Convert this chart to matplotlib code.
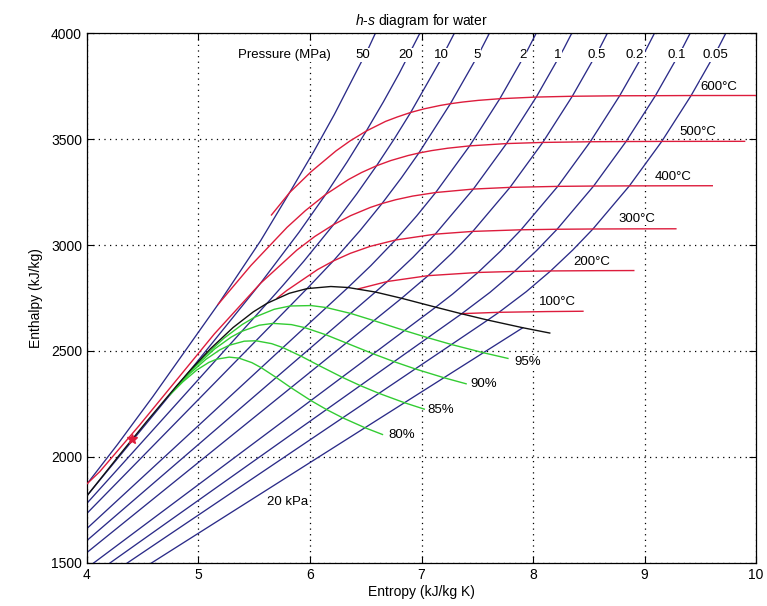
import matplotlib
matplotlib.use('Agg')
import matplotlib.pyplot as plt

plt.rcParams['font.family'] = ['Liberation Sans', 'DejaVu Sans']
plt.rcParams['mathtext.fontset'] = 'custom'
plt.rcParams['mathtext.it'] = 'Liberation Sans:italic'
plt.rcParams['mathtext.rm'] = 'Liberation Sans'

# ---------------- data: isobars (entropy s, enthalpy h) ----------------
p50_s = [3.7642, 4.0029, 4.2746, 4.5896, 5.1762, 5.5563, 5.8175, 6.0342, 6.2189, 6.5290, 6.79]
p50_h = [1716.6, 1874.6, 2059.7, 2284.0, 2720.1, 3019.5, 3247.6, 3441.4, 3616.4, 3933.6, 4231]
p20_s = [3.7288, 4.0139, 4.9269, 5.5540, 5.9017, 6.1401, 6.3348, 6.5048, 6.6582, 6.7993, 7.0544]
p20_h = [1645.9, 1826.3, 2409.7, 2818.1, 3060.1, 3238.2, 3393.5, 3537.6, 3675.3, 3809.0, 4069.8]
p10_s = [3.3596, 5.6141, 5.7568, 5.9443, 6.2120, 6.4190, 6.5966, 6.7561, 6.9029, 7.1687, 7.4077]
p10_h = [1407.6, 2724.7, 2809.1, 2923.4, 3096.5, 3240.9, 3373.7, 3500.9, 3625.3, 3870.5, 4114.9]
p5_s = [2.9202, 5.9734, 6.2084, 6.4493, 6.6459, 6.8186, 6.9759, 7.2589, 7.5122, 7.7440]
p5_h = [1154.2, 2794.3, 2924.5, 3068.4, 3195.7, 3316.2, 3433.8, 3666.5, 3900.1, 4137.1]
p2_s = [2.4474, 6.3409, 6.5453, 6.7664, 6.9563, 7.1271, 7.4317, 7.7024, 7.9487, 8.1765]
p2_h = [908.8, 2799.5, 2902.5, 3023.5, 3137.0, 3247.6, 3467.6, 3690.1, 3917.4, 4150.3]
p1_s = [2.1387, 6.5865, 6.6940, 6.9247, 7.1229, 7.4651, 7.7622, 8.0290, 8.2731, 8.4996]
p1_h = [762.8, 2778.1, 2827.9, 2942.6, 3051.2, 3263.9, 3478.5, 3697.9, 3923.1, 4154.8]
p05_s = [1.8607, 6.8213, 7.0592, 7.2709, 7.4599, 7.7938, 8.0873, 8.3522, 8.5952, 8.8211]
p05_h = [640.2, 2748.7, 2855.4, 2960.7, 3064.2, 3271.9, 3483.9, 3701.7, 3925.9, 4156.9]
p02_s = [1.5301, 7.1272, 7.2795, 7.5066, 7.7086, 7.8926, 8.2218, 8.5133, 8.7770, 9.0194, 9.2449]
p02_h = [504.7, 2706.7, 2768.8, 2870.5, 2971.0, 3071.8, 3276.6, 3487.1, 3704.0, 3927.6, 4158.2]
p01_s = [1.3026, 7.3594, 7.6134, 7.8343, 8.0333, 8.2158, 8.5435, 8.8342, 9.0976, 9.3398, 9.5652]
p01_h = [417.5, 2675.5, 2776.4, 2875.3, 2974.3, 3074.3, 3278.2, 3488.1, 3704.4, 3928.2, 4158.6]
p005_s = [1.0910, 7.5939, 7.6947, 7.9401, 8.1580, 8.3556, 8.5373, 8.8642, 9.1546, 9.4178, 9.6599, 9.8852]
p005_h = [340.5, 2645.9, 2682.5, 2780.1, 2877.7, 2976.0, 3075.5, 3278.9, 3488.7, 3705.1, 3928.5, 4158.9]
p002_s = [0.8320, 7.9085]
p002_h = [251.4, 2609.7]

# ---------------- data: isotherms ----------------
t100_s = [7.3549, 7.3614, 7.6947, 8.1262, 8.4479]
t100_h = [2676.1, 2676.2, 2682.5, 2686.0, 2687.5]
t200_s = [6.4323, 6.6940, 7.0592, 7.5066, 7.8343, 8.1580, 8.5842, 8.9038]
t200_h = [2792.8, 2827.9, 2855.4, 2870.5, 2875.3, 2877.7, 2879.0, 2879.5]
t300_s = [5.7045, 5.7906, 6.0682, 6.2084, 6.3615, 6.5390, 6.7664, 7.1229, 7.4599, 7.8926,
          8.2158, 8.5373, 8.9612, 9.2813]
t300_h = [2749.0, 2785.0, 2884.2, 2924.5, 2960.7, 2993.5, 3023.5, 3051.2, 3064.2, 3071.8,
          3074.3, 3075.5, 3076.2, 3076.5]
t400_s = [4.0029, 4.1145, 4.4728, 5.1418, 5.5540, 5.8811, 6.0433, 6.2120, 6.3634, 6.5408,
          6.6459, 6.7690, 6.9212, 7.1271, 7.4651, 7.7938, 8.2218, 8.5435, 8.8642, 9.2876, 9.6077]
t400_h = [1874.6, 1930.8, 2151.1, 2580.2, 2818.1, 2975.5, 3040.4, 3096.5, 3138.3, 3177.2,
          3195.7, 3213.6, 3230.9, 3247.6, 3263.9, 3271.9, 3276.6, 3278.2, 3278.9, 3279.4, 3279.6]
t500_s = [5.1762, 5.4700, 5.7941, 5.9592, 6.1401, 6.3443, 6.4618, 6.5966, 6.7240, 6.8803,
          6.9759, 7.0901, 7.2338, 7.4317, 7.7622, 8.0873, 8.5133, 8.8342, 9.1546, 9.5779, 9.8978]
t500_h = [2720.1, 2903.3, 3083.3, 3162.4, 3238.2, 3308.6, 3341.8, 3373.7, 3398.3, 3422.2,
          3433.8, 3445.3, 3456.5, 3467.6, 3478.5, 3483.9, 3487.1, 3488.1, 3488.7, 3489.0, 3489.1]
t600_s = [5.6545, 5.8175, 6.0114, 6.2331, 6.3602, 6.5048, 6.6776, 6.7828, 6.9029, 7.0206,
          7.1677, 7.2589, 7.3688, 7.5085, 7.7024, 8.0290, 8.3522, 8.7770, 9.0976, 9.4178,
          9.8410, 10.1608]
t600_h = [3141.7, 3247.6, 3346.4, 3443.9, 3491.4, 3537.6, 3583.1, 3604.0, 3625.3, 3642.0,
          3658.4, 3666.5, 3674.4, 3682.3, 3690.1, 3697.9, 3701.7, 3704.0, 3704.4, 3705.1,
          3705.3, 3705.4]

# ---------------- data: saturation line ----------------
sat_s = [3.6848, 3.8715, 4.0139, 4.1075, 4.2950, 4.4070, 4.5330, 4.8013, 4.9269, 5.1044,
         5.3098, 5.4924, 5.6141, 5.8133, 5.9734, 6.1869, 6.3409, 6.5865, 6.8213, 7.1272,
         7.3594, 7.5939, 7.9085, 8.1502]
sat_h = [1610.5, 1732.0, 1826.3, 1888.0, 2012.0, 2084.3, 2166.0, 2334.0, 2409.7, 2509.1,
         2610.5, 2684.9, 2724.7, 2772.1, 2794.3, 2804.2, 2799.5, 2778.1, 2748.7, 2706.7,
         2675.5, 2645.9, 2609.7, 2584.7]
crit_s = [4.4070]
crit_h = [2084.3]

# ---------------- data: constant-quality lines (20 MPa ... 10 kPa) ----------------
x80_s = [4.744, 4.858, 4.985, 5.093, 5.163, 5.275, 5.363, 5.479, 5.562, 5.697, 5.829, 6.008, 6.148, 6.293, 6.493, 6.650]
x80_h = [2293.0, 2353.7, 2410.5, 2446.2, 2461.3, 2471.1, 2466.3, 2445.0, 2421.4, 2375.0, 2327.0, 2266.2, 2223.9, 2184.8, 2138.0, 2106.1]
x85_s = [4.790, 4.920, 5.066, 5.193, 5.276, 5.410, 5.515, 5.656, 5.757, 5.919, 6.077, 6.288, 6.451, 6.619, 6.847, 7.025]
x85_h = [2322.2, 2392.5, 2460.5, 2505.9, 2527.1, 2546.3, 2548.3, 2534.7, 2515.9, 2475.8, 2432.4, 2376.3, 2336.8, 2300.1, 2256.0, 2225.7]
x90_s = [4.836, 4.981, 5.147, 5.293, 5.389, 5.544, 5.668, 5.833, 5.952, 6.142, 6.325, 6.568, 6.754, 6.944, 7.201, 7.400]
x90_h = [2351.4, 2431.4, 2510.5, 2565.5, 2593.0, 2621.6, 2630.3, 2624.5, 2610.4, 2576.6, 2537.9, 2486.4, 2449.7, 2415.4, 2373.9, 2345.3]
x95_s = [4.881, 5.043, 5.229, 5.393, 5.501, 5.679, 5.821, 6.010, 6.146, 6.364, 6.573, 6.847, 7.057, 7.269, 7.555, 7.775]
x95_h = [2380.5, 2470.2, 2560.5, 2625.2, 2658.8, 2696.8, 2712.3, 2714.3, 2705.0, 2677.3, 2643.3, 2596.5, 2562.6, 2530.6, 2491.8, 2465.0]

# ---------------- labels ----------------
pressure_labels = ['50', '20', '10', '5', '2', '1', '0.5', '0.2', '0.1', '0.05']
temperature_labels = ['600°C', '500°C', '400°C', '300°C', '200°C', '100°C']
quality_labels = ['95%', '90%', '85%', '80%']

# label placement (layout)
pressure_label_x = [6.471, 6.857, 7.181, 7.495, 7.908, 8.223, 8.573, 8.915, 9.292, 9.633]
pressure_label_y = 3896
temperature_label_xy = [(9.50, 3745), (9.31, 3535), (9.09, 3322), (8.77, 3125), (8.36, 2920), (8.05, 2731)]
quality_label_xy = [(7.83, 2450), (7.44, 2345), (7.05, 2222), (6.70, 2104)]

BLUE = '#2b2b88'
RED = '#dd1c3c'
GREEN = '#33cc33'
BLACK = '#111111'

fig = plt.figure(figsize=(7.67, 6.06), dpi=100)
ax = fig.add_axes([0.1134, 0.0710, 0.8723, 0.8745])

isobars = [(p50_s, p50_h), (p20_s, p20_h), (p10_s, p10_h), (p5_s, p5_h), (p2_s, p2_h),
           (p1_s, p1_h), (p05_s, p05_h), (p02_s, p02_h), (p01_s, p01_h), (p005_s, p005_h),
           (p002_s, p002_h)]
for s, h in isobars:
    ax.plot(s, h, color=BLUE, lw=0.95, zorder=2)

isotherms = [(t100_s, t100_h), (t200_s, t200_h), (t300_s, t300_h),
             (t400_s, t400_h), (t500_s, t500_h), (t600_s, t600_h)]
for s, h in isotherms:
    ax.plot(s, h, color=RED, lw=1.0, zorder=3)

for s, h in [(x80_s, x80_h), (x85_s, x85_h), (x90_s, x90_h), (x95_s, x95_h)]:
    ax.plot(s, h, color=GREEN, lw=1.0, zorder=4)

ax.plot(sat_s, sat_h, color=BLACK, lw=1.0, zorder=5)
ax.plot(crit_s, crit_h, marker='*', color=RED, ms=7, ls='none', zorder=6)

bb = dict(facecolor='white', edgecolor='none', pad=0.5)
ax.text(5.35, pressure_label_y, 'Pressure (MPa)', fontsize=9.5, ha='left', va='center', bbox=bb, zorder=7)
for lab, x in zip(pressure_labels, pressure_label_x):
    ax.text(x, pressure_label_y, lab, fontsize=9.5, ha='center', va='center', bbox=bb, zorder=7)
for lab, (x, y) in zip(temperature_labels, temperature_label_xy):
    ax.text(x, y, lab, fontsize=9.5, ha='left', va='center', bbox=bb, zorder=7)
for lab, (x, y) in zip(quality_labels, quality_label_xy):
    ax.text(x, y, lab, fontsize=9.5, ha='left', va='center', bbox=bb, zorder=7)
ax.text(5.98, 1788, '20 kPa', fontsize=9.5, ha='right', va='center', bbox=bb, zorder=7)

ax.set_xlim(4, 10)
ax.set_ylim(1500, 4000)
ax.set_xticks([4, 5, 6, 7, 8, 9, 10])
ax.set_yticks([1500, 2000, 2500, 3000, 3500, 4000])
ax.grid(True, color='black', linestyle=(0, (1, 3.5)), linewidth=0.9)
ax.set_axisbelow(True)
ax.tick_params(direction='in', top=True, right=True, labelsize=10, length=5, width=0.8)
for sp in ax.spines.values():
    sp.set_linewidth(0.9)

ax.set_xlabel('Entropy (kJ/kg K)', fontsize=10, labelpad=2)
ax.set_ylabel('Enthalpy (kJ/kg)', fontsize=10, labelpad=6)
ax.set_title(r'$h$-$s$ diagram for water', fontsize=10, pad=6)

fig.savefig('out.png', dpi=100)
